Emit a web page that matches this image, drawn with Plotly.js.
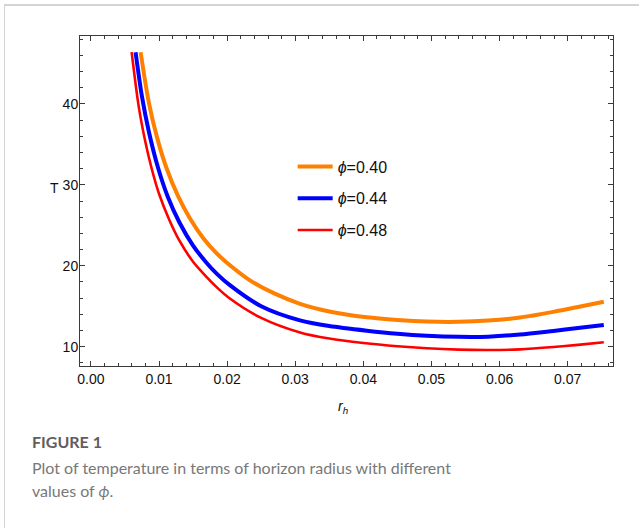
<!DOCTYPE html>
<html>
<head>
<meta charset="utf-8">
<script src="https://cdn.plot.ly/plotly-3.0.1.min.js"></script>
<style>
  html, body { margin: 0; padding: 0; background: #ffffff; }
  #card {
    position: absolute; left: 4px; top: 4px; width: 700px; height: 600px;
    border-left: 1px solid #d4d4d4; border-top: 2px solid #d4d4d4;
    background: #ffffff;
  }
  #plot { position: absolute; left: 0; top: 0; width: 639px; height: 528px; }
</style>
</head>
<body>
<div id="card"></div>
<div id="plot"></div>
<script>
// Horizon radius r_h and temperature T for each value of phi
const rPhi040 = [0.0073, 0.0085, 0.0097, 0.01111, 0.0128, 0.0145, 0.0165, 0.0185, 0.0205, 0.02335, 0.027, 0.0307, 0.035, 0.0405, 0.045, 0.0493, 0.054, 0.0583, 0.063, 0.0679, 0.0715, 0.0753];
const tPhi040 = [46.4, 40.2, 35.9, 32.05, 28.6, 25.9, 23.4, 21.5, 20.0, 18.2, 16.55, 15.3, 14.35, 13.63, 13.3, 13.1, 13.07, 13.22, 13.6, 14.3, 14.9, 15.56];

const rPhi044 = [0.00656, 0.0075, 0.0085, 0.00988, 0.0113, 0.013, 0.015, 0.017, 0.0185, 0.0204, 0.025, 0.0307, 0.035, 0.0405, 0.045, 0.0493, 0.054, 0.0583, 0.063, 0.0679, 0.0715, 0.0753];
const tPhi044 = [46.4, 40.9, 36.6, 32.05, 28.5, 25.35, 22.5, 20.35, 19.0, 17.6, 15.0, 13.25, 12.55, 11.98, 11.6, 11.35, 11.22, 11.24, 11.5, 11.95, 12.3, 12.68];

const rPhi048 = [0.00598, 0.007, 0.008, 0.00891, 0.01, 0.0115, 0.013, 0.015, 0.017, 0.01865, 0.0204, 0.025, 0.0307, 0.035, 0.04, 0.045, 0.0493, 0.054, 0.0583, 0.063, 0.0679, 0.0715, 0.0753];
const tPhi048 = [46.4, 39.8, 35.3, 32.05, 28.9, 25.7, 23.1, 20.5, 18.6, 17.2, 15.95, 13.55, 11.75, 11.0, 10.45, 10.05, 9.8, 9.63, 9.58, 9.66, 9.95, 10.22, 10.54];

const seriesNames = ['<i>ϕ</i>=0.40', '<i>ϕ</i>=0.44', '<i>ϕ</i>=0.48'];

const xTickVals = [0.00, 0.01, 0.02, 0.03, 0.04, 0.05, 0.06, 0.07];
const xTickText = ['0.00', '0.01', '0.02', '0.03', '0.04', '0.05', '0.06', '0.07'];
const yTickVals = [10, 20, 30, 40];
const yTickText = ['10', '20', '30', '40'];

const captionTitle = 'FIGURE 1';
const captionLine1 = 'Plot of temperature in terms of horizon radius with different';
const captionLine2 = 'values of <i>ϕ</i>.';

const colors = ['#ff8000', '#0000ff', '#ff0000'];
const widths = [4, 4, 2.6];
const xs = [rPhi040, rPhi044, rPhi048];
const ys = [tPhi040, tPhi044, tPhi048];

const traces = xs.map((x, i) => ({
  type: 'scatter', mode: 'lines',
  x: x, y: ys[i], name: seriesNames[i],
  line: { color: colors[i], width: widths[i], shape: 'spline', smoothing: 0.8 },
  legendgroup: 'g' + i,
  hoverinfo: 'skip'
}));

const axisCommon = {
  showgrid: false, zeroline: false,
  showline: true, linecolor: '#3a3a3a', linewidth: 1, mirror: 'allticks',
  ticks: 'inside', ticklen: 5, tickwidth: 1, tickcolor: '#3a3a3a',
  tickfont: { family: 'Liberation Sans, Arial, sans-serif', size: 14, color: '#111111' },
  tickmode: 'array'
};

const layout = {
  width: 639, height: 528,
  margin: { l: 80, r: 26, t: 36, b: 162 },
  paper_bgcolor: 'rgba(0,0,0,0)',
  plot_bgcolor: '#ffffff',
  showlegend: true,
  legend: {
    x: 0.399, y: 0.656, xanchor: 'left', yanchor: 'top',
    bgcolor: 'rgba(0,0,0,0)',
    font: { family: 'Liberation Sans, Arial, sans-serif', size: 16, color: '#111111' },
    tracegroupgap: 8,
    itemwidth: 35
  },
  xaxis: Object.assign({}, axisCommon, {
    range: [-0.0016, 0.07665],
    tickvals: xTickVals, ticktext: xTickText,
    minor: { ticks: 'inside', ticklen: 3, tickcolor: '#3a3a3a', dtick: 0.002, tick0: 0, showgrid: false }
  }),
  yaxis: Object.assign({}, axisCommon, {
    range: [7.61, 48.4],
    tickvals: yTickVals, ticktext: yTickText,
    ticklabelstandoff: -2,
    minor: { ticks: 'inside', ticklen: 3, tickcolor: '#3a3a3a', dtick: 2, tick0: 0, showgrid: false }
  }),
  annotations: [
    { text: 'T', xref: 'paper', yref: 'paper', x: -0.047, y: 0.54, showarrow: false,
      xanchor: 'center', yanchor: 'middle',
      font: { family: 'Liberation Sans, Arial, sans-serif', size: 14, color: '#111111' } },
    { text: '<i>r</i><sub><i>h</i></sub>', xref: 'paper', yref: 'paper', x: 0.493, y: -0.125, showarrow: false,
      xanchor: 'center', yanchor: 'middle',
      font: { family: 'Liberation Sans, Arial, sans-serif', size: 14, color: '#111111' } },
    { text: '<b>' + captionTitle + '</b>', xref: 'paper', yref: 'paper', x: -0.094, y: -0.23, showarrow: false,
      xanchor: 'left', yanchor: 'middle',
      font: { family: 'Lato, sans-serif', size: 16, color: '#5e5e5e' } },
    { text: captionLine1, xref: 'paper', yref: 'paper', x: -0.094, y: -0.309, showarrow: false,
      xanchor: 'left', yanchor: 'middle',
      font: { family: 'Lato, sans-serif', size: 16, color: '#787878' } },
    { text: captionLine2, xref: 'paper', yref: 'paper', x: -0.094, y: -0.378, showarrow: false,
      xanchor: 'left', yanchor: 'middle',
      font: { family: 'Lato, sans-serif', size: 16, color: '#787878' } }
  ]
};

Plotly.newPlot('plot', traces, layout, { displayModeBar: false, staticPlot: true });
</script>
</body>
</html>
